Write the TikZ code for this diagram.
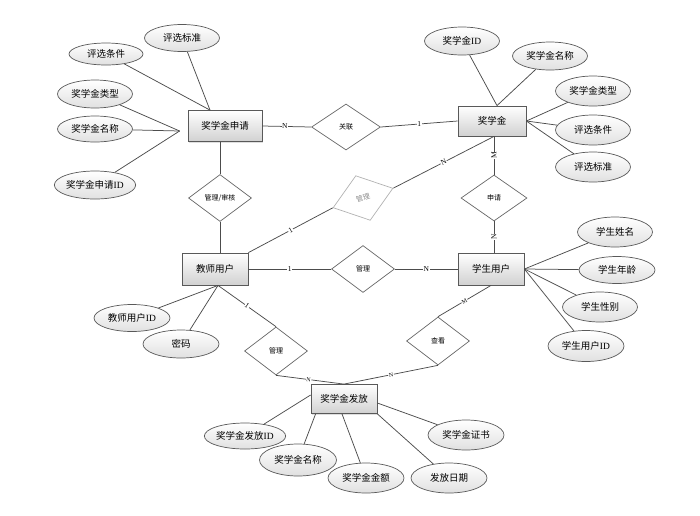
\documentclass[tikz,border=0pt]{standalone}
\usepackage{fontspec}
\setmainfont{Liberation Serif}
\newfontfamily\cjk{Noto Sans CJK SC}
\usetikzlibrary{shapes.geometric,shadows}
\newcommand\idtxt{{\rmfamily ID}}
\tikzset{
  ent/.style={draw=black!65, line width=0.8pt, rectangle, inner sep=0pt, top color=white, bottom color=black!18,
    font=\cjk\fontsize{9.5}{10}\selectfont,
    drop shadow={opacity=0.25, shadow xshift=1pt, shadow yshift=-1.2pt}},
  attr/.style={draw=black!65, line width=0.7pt, ellipse, inner sep=0pt, minimum width=75pt, minimum height=28pt,
    top color=white, bottom color=black!12, font=\cjk\fontsize{9.5}{10}\selectfont},
  rel/.style={draw=black!60, line width=0.7pt, diamond, aspect=1.34, inner sep=0pt, minimum width=63pt,
    minimum height=47pt, fill=white, font=\cjk\fontsize{7}{7}\selectfont},
  conn/.style={draw=black!70, line width=0.75pt},
  lab/.style={font=\fontsize{7.5}{7.5}\selectfont, fill=white, inner sep=0.6pt},
}
\begin{document}
\begin{tikzpicture}[x=1pt,y=-1pt]
\useasboundingbox (0,0) rectangle (700,515);
% entities
\node[ent, minimum width=74pt, minimum height=31pt] (e1) at (225,126) {奖学金申请};
\node[ent, minimum width=68pt, minimum height=30pt] (e2) at (492,121) {奖学金};
\node[ent, minimum width=66pt, minimum height=32pt] (e3) at (215,269) {教师用户};
\node[ent, minimum width=66pt, minimum height=32pt] (e4) at (491,269) {学生用户};
\node[ent, minimum width=66pt, minimum height=29pt] (e5) at (344,399) {奖学金发放};
% relationships
\node[rel, minimum width=69pt, minimum height=46pt] (d1) at (346,127) {关联};
\node[rel] (d2) at (220,198) {管理/审核};
\node[rel, draw=black!30, text=black!45, rotate=18] (d3) at (363,198) {管理};
\node[rel] (d4) at (363,269) {管理};
\node[rel, minimum width=66pt, minimum height=46pt] (d5) at (494,198) {申请};
\node[rel, minimum height=48pt] (d6) at (276,351) {管理};
\node[rel, minimum height=48pt] (d7) at (438,341) {查看};
% attributes of e1
\node[attr, minimum width=74pt, minimum height=22pt] (a1) at (106,54) {评选条件};
\node[attr, minimum height=27pt] (a2) at (182,38) {评选标准};
\node[attr] (a3) at (95,94) {奖学金类型};
\node[attr, minimum height=26pt] (a4) at (95,129) {奖学金名称};
\node[attr] (a5) at (95,185) {奖学金申请\idtxt};
% attributes of e2
\node[attr] (b1) at (462,41) {奖学金\idtxt};
\node[attr] (b2) at (550,56) {奖学金名称};
\node[attr, minimum height=30pt] (b3) at (593,91) {奖学金类型};
\node[attr, minimum height=30pt] (b4) at (593,130) {评选条件};
\node[attr, minimum height=30pt] (b5) at (593,167) {评选标准};
% attributes of e3
\node[attr, minimum width=76pt, minimum height=27pt] (t1) at (132,318) {教师用户\idtxt};
\node[attr, minimum width=76pt] (t2) at (181,344) {密码};
% attributes of e4
\node[attr, minimum height=30pt] (s1) at (615,232) {学生姓名};
\node[attr, minimum width=76pt, minimum height=27pt] (s2) at (617,270) {学生年龄};
\node[attr, minimum height=30pt] (s3) at (600,307) {学生性别};
\node[attr, minimum width=76pt, minimum height=31pt] (s4) at (586,346) {学生用户\idtxt};
% attributes of e5
\node[attr, minimum width=76pt, minimum height=26pt] (f1) at (245,436) {奖学金发放\idtxt};
\node[attr, minimum width=77pt, minimum height=32pt] (f2) at (298,460) {奖学金名称};
\node[attr, minimum width=76pt, minimum height=30pt] (f3) at (366,478) {奖学金金额};
\node[attr, minimum width=76pt, minimum height=30pt] (f4) at (449,478) {发放日期};
\node[attr, minimum width=76pt, minimum height=30pt] (f5) at (466,435) {奖学金证书};
% junction coordinates
\coordinate (c1) at ([xshift=-8pt,yshift=-5pt]e1.west);
\coordinate (c2) at ([xshift=-15pt]e1.north);
\coordinate (c3) at ([xshift=5pt]e2.north);
\coordinate (c4) at ([xshift=2pt]e2.south);
\coordinate (c5) at ([xshift=3pt]e3.south);
\coordinate (c6) at ([yshift=4pt]e5.west);
\coordinate (c7) at ([xshift=5pt]e5.south west);
\coordinate (c8) at ([xshift=-2pt]e5.south);
\coordinate (c9) at ([yshift=-4pt]e5.east);
% attribute connectors
\draw[conn] (a1) -- (c2);
\draw[conn] (a2) -- (c2);
\draw[conn] (a3) -- (c1);
\draw[conn] (a4) -- (c1);
\draw[conn] (a5) -- (c1);
\draw[conn] (b1) -- (c3);
\draw[conn] (b2) -- (c3);
\draw[conn] (b3) -- (e2.east);
\draw[conn] (b4) -- (e2.east);
\draw[conn] (b5) -- (e2.east);
\draw[conn] (t1) -- (c5);
\draw[conn] (t2) -- (c5);
\draw[conn] (s1) -- (e4.east);
\draw[conn] (s2) -- (e4.east);
\draw[conn] (s3) -- (e4.east);
\draw[conn] (s4) -- (e4.east);
\draw[conn] (f1) -- (c6);
\draw[conn] (f2) -- (c7);
\draw[conn] (f3) -- (c8);
\draw[conn] (f4) -- (e5.south east);
\draw[conn] (f5) -- (c9);
% relationship connectors
\draw[conn] (e1.east) -- node[lab, pos=0.46] {N} (d1.west);
\draw[conn] (d1.east) -- node[lab] {1} (e2.west);
\draw[conn] (d2.north |- e1.south) -- (d2.north);
\draw[conn] (d2.south) -- (d2.south |- e3.north);
\draw[conn] (e3.north east) -- node[lab, sloped] {1} (d3.west);
\draw[conn] (d3.east) -- node[lab, sloped] {N} (c4);
\draw[conn] (c4) -- node[lab, rotate=90] {M} (d5.north);
\draw[conn] (d5.south) -- node[lab, rotate=90] {N} (d5.south |- e4.north);
\draw[conn] (e3.east) -- node[lab] {1} (d4.west);
\draw[conn] (d4.east) -- node[lab] {N} (e4.west);
\draw[conn] (c5) -- node[lab, sloped, pos=0.5] {1} (d6.north);
\draw[conn] (d6.south) -- node[lab, sloped, font=\fontsize{6}{6}\selectfont, pos=0.48] {N} (e5.north);
\draw[conn] (e4.south) -- node[lab, sloped, font=\fontsize{6}{6}\selectfont] {M} (d7.north);
\draw[conn] (d7.south) -- node[lab, sloped, font=\fontsize{6}{6}\selectfont] {N} (e5.north);
\end{tikzpicture}
\end{document}
